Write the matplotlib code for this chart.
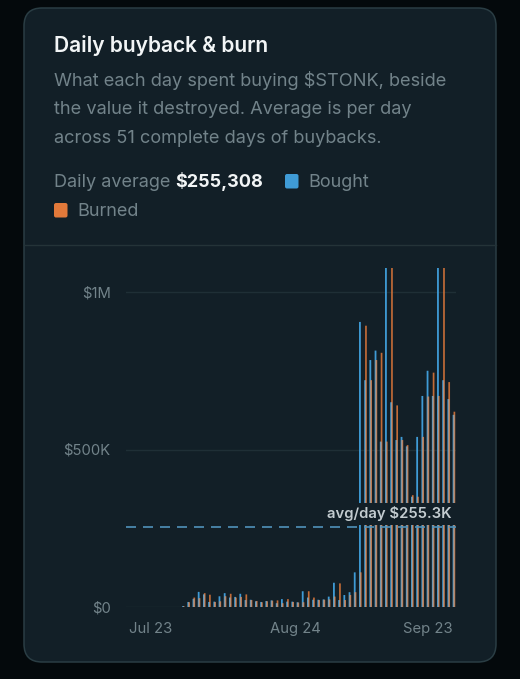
import matplotlib
matplotlib.use("Agg")
import matplotlib.pyplot as plt
from matplotlib.patches import FancyBboxPatch
import numpy as np

W, H = 520, 679
FONT = "Inter"
plt.rcParams["font.family"] = [FONT, "DejaVu Sans"]

first_day = 10
bought_k = [3, 16, 26, 48, 40, 16, 17, 34, 44, 30, 32, 42, 22, 23, 18, 16, 19, 21, 12, 25, 17, 17, 15, 50, 30, 23, 23,
            24, 33, 77, 22, 38, 47, 110, 905, 720, 784, 814, 525, 1200, 650, 530, 540, 510, 350, 540, 670, 750, 670, 1200, 720, 660, 610]
burned_k = [2, 15, 30, 28, 44, 39, 16, 18, 34, 42, 30, 32, 40, 22, 19, 15, 18, 20, 21, 12, 25, 16, 14, 15, 50, 30, 22,
            23, 24, 33, 75, 22, 38, 47, 110, 893, 720, 784, 807, 525, 1200, 640, 530, 514, 355, 350, 540, 668, 744, 670, 1200, 714, 620]
average_k = 255.3
y_ticks = [0, 500, 1000]
y_labels = ["$0", "$500K", "$1M"]
x_ticks = [-0.5, 31.5, 61.7]
x_labels = ["Jul 23", "Aug 24", "Sep 23"]
x_aligns = ["left", "center", "right"]
title = "Daily buyback & burn"
subtitle = ["What each day spent buying $STONK, beside",
            "the value it destroyed. Average is per day",
            "across 51 complete days of buybacks."]

BLUE, ORANGE = "#3f9bd6", "#e2793a"
MUTED = "#72838a"
CARD = "#121f27"

fig = plt.figure(figsize=(W / 100, H / 100), dpi=100, facecolor="#04090c")
bg = fig.add_axes([0, 0, 1, 1])
bg.set_xlim(0, W); bg.set_ylim(H, 0); bg.axis("off")
bg.add_patch(FancyBboxPatch((24, 8), 472, 654, boxstyle="round,pad=0,rounding_size=18",
                            fc=CARD, ec="#2a3d44", lw=1.1))
bg.plot([24, 496], [245, 245], color="#243338", lw=1)
bg.text(54, 45.5, title, color="#f2f5f6", fontsize=15.1, fontweight="semibold", va="center")
for y, line in zip([81, 110, 138.5], subtitle):
    bg.text(54, y, line, color=MUTED, fontsize=13.1, va="center")
bg.text(54, 187, "Daily average", color=MUTED, fontsize=13, va="baseline")
bg.text(175, 187, "$255,308", color="#f2f5f6", fontsize=13, fontweight="bold", va="baseline")
bg.add_patch(FancyBboxPatch((285, 174), 13.5, 14.5, boxstyle="round,pad=0,rounding_size=2", fc=BLUE, ec="none"))
bg.text(308, 187, "Bought", color=MUTED, fontsize=13, va="baseline")
bg.add_patch(FancyBboxPatch((54, 203), 13.5, 14.5, boxstyle="round,pad=0,rounding_size=2", fc=ORANGE, ec="none"))
bg.text(77, 216, "Burned", color=MUTED, fontsize=13, va="baseline")

ax = fig.add_axes([126 / W, (H - 607) / H, 330 / W, 339 / H])
ax.patch.set_alpha(0)
days = np.arange(first_day, first_day + len(bought_k))
px = 1 / 5.2
ax.bar(days - 0.07, bought_k, width=1.8 * px, color=BLUE, snap=False, lw=0, zorder=3)
ax.bar(days + 0.09, burned_k, width=1.7 * px, color=ORANGE, alpha=0.85, snap=False, lw=0, zorder=3)
ax.bar(days + 0.01, np.minimum(bought_k, burned_k), width=1.1 * px, color="#98a5ab", alpha=0.65, snap=False, lw=0, zorder=3.5)
ax.set_xlim(-1.04, 62.4)
ax.set_ylim(0, 339 / 315 * 1000)
for s in ax.spines.values():
    s.set_visible(False)
ax.set_yticks(y_ticks, y_labels, color=MUTED, fontsize=10.7)
ax.set_xticks(x_ticks, x_labels, color=MUTED, fontsize=10.7)
for lab, a in zip(ax.get_xticklabels(), x_aligns):
    lab.set_ha(a)
ax.tick_params(length=0, axis="y", pad=11)
ax.tick_params(length=0, axis="x", pad=11)
ax.grid(axis="y", color="#1f2f36", lw=1, zorder=0)
ax.axhline(average_k, color="#5092ba", lw=1.2, dashes=(6, 4.2), zorder=4)
ax.text(0.988, average_k + 40, "avg/day $255.3K", transform=ax.get_yaxis_transform(), ha="right", va="center",
        color="#c3ccd0", fontsize=10.7, fontweight="semibold", zorder=6,
        bbox=dict(fc=CARD, ec="none", pad=2.6))
fig.savefig("out.png", dpi=100, facecolor=fig.get_facecolor())
